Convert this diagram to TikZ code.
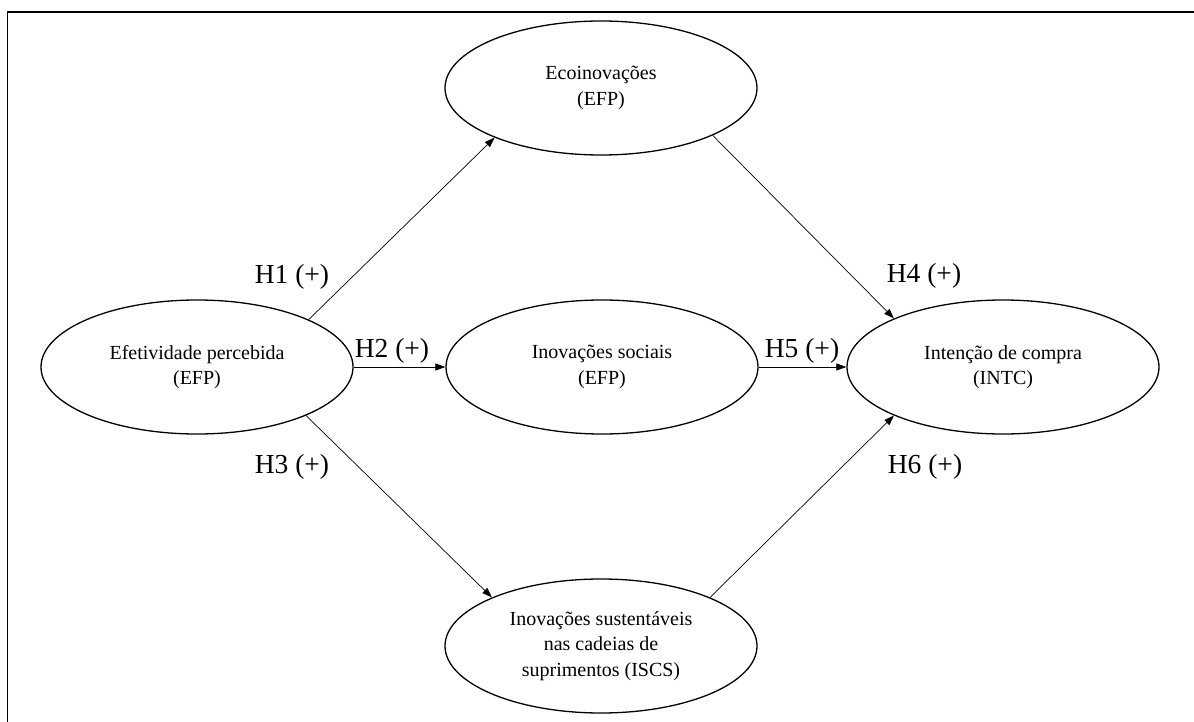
\documentclass[tikz,border=0pt]{standalone}
\usepackage{fontspec}
\setmainfont{Liberation Serif}
\usetikzlibrary{shapes.geometric,arrows.meta}
\begin{document}
\begin{tikzpicture}[x=1pt,y=-1pt,
  construct/.style={ellipse, draw, line width=1.3pt, minimum width=312pt,
    minimum height=134pt, inner sep=0pt, align=center,
    font=\fontsize{20}{25.5}\selectfont},
  link/.style={draw, line width=0.7pt, -{Triangle[length=10pt,width=7pt]}},
  hyp/.style={font=\fontsize{27.5}{30}\selectfont, inner sep=0pt, anchor=base}]
  \useasboundingbox (0,0) rectangle (1194,722);

  % open frame: top and left rules
  \draw[line width=1.3pt] (7.5,722) -- (7.5,12) -- (1194,12);

  % constructs
  \node[construct] (efp) at (197,367) {Efetividade percebida\\(EFP)};
  \node[construct] (eco) at (601,88)  {Ecoinovações\\(EFP)};
  \node[construct] (soc) at (602,367) {Inovações sociais\\(EFP)};
  \node[construct] (iscs) at (601,646) {Inovações sustentáveis\\nas cadeias de\\suprimentos (ISCS)};
  \node[construct] (intc) at (1003,367) {Intenção de compra\\(INTC)};

  % hypothesised paths
  \draw[link] (efp.23) -- (eco.205);
  \draw[link] (efp.east) -- (soc.west);
  \draw[link] (efp.336) -- (iscs.156);
  \draw[link] (eco.337) -- (intc.156);
  \draw[link] (soc.east) -- (intc.west);
  \draw[link] (iscs.24) -- (intc.204);

  % path labels
  \node[hyp] (h1) at (292,283) {H1 (+)};
  \node[hyp] (h2) at (392,357) {H2 (+)};
  \node[hyp] (h3) at (292,473) {H3 (+)};
  \node[hyp] (h4) at (924,282) {H4 (+)};
  \node[hyp] (h5) at (802,357) {H5 (+)};
  \node[hyp] (h6) at (925,473) {H6 (+)};
\end{tikzpicture}
\end{document}
